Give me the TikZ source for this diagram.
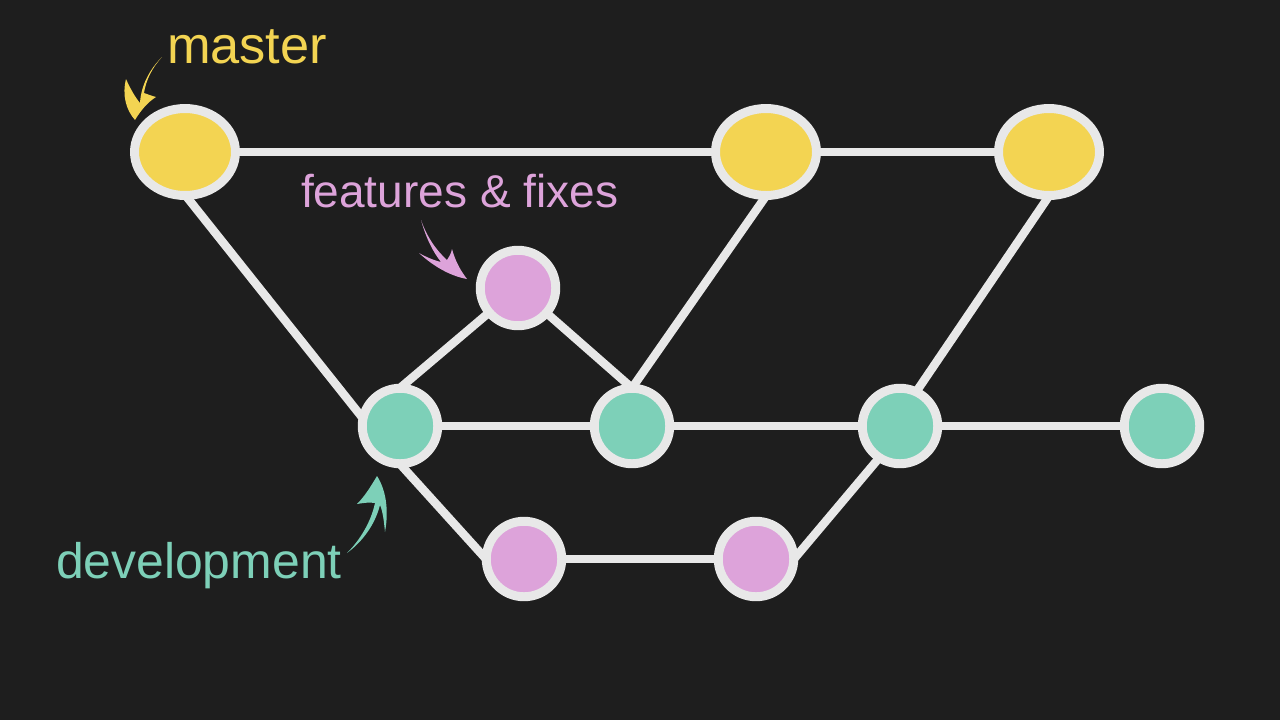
\documentclass[tikz,border=0pt]{standalone}
\usepackage{fontspec}
\setmainfont{Liberation Sans}
\usetikzlibrary{shapes.geometric,calc}
\definecolor{bg}{HTML}{1E1E1E}
\definecolor{cyel}{HTML}{F3D452}
\definecolor{cpink}{HTML}{DDA3DA}
\definecolor{cteal}{HTML}{7DD0B8}
\definecolor{cline}{HTML}{E8E8E8}
\begin{document}
\begin{tikzpicture}[x=0.02cm,y=-0.02cm,
  edge/.style={draw=cline,line width=4.8pt},
  mnode/.style={ellipse,draw=cline,line width=5.1pt,fill=cyel,minimum width=2.02cm,minimum height=1.74cm,inner sep=0pt},
  cnode/.style={circle,draw=cline,line width=5.1pt,minimum size=1.51cm,inner sep=0pt},
  pnode/.style={cnode,fill=cpink},
  dnode/.style={cnode,fill=cteal},
  lbl/.style={anchor=base west,inner sep=0pt,outer sep=0pt}]
\fill[bg] (0,0) rectangle (1280,720);
\useasboundingbox (0,0) rectangle (1280,720);
% node positions
\coordinate (m1) at (185,152);
\coordinate (m2) at (766,152);
\coordinate (m3) at (1049,152);
\coordinate (f1) at (518,288);
\coordinate (d1) at (400,426);
\coordinate (d2) at (632,426);
\coordinate (d3) at (900,426);
\coordinate (d4) at (1162,426);
\coordinate (f2) at (524,559);
\coordinate (f3) at (756,559);
% edges
\path[edge] (m1) -- (m2);
\path[edge] (m2) -- (m3);
\path[edge] ($(m1)+(1,44)$) -- ($(d1)+(-31,0)$);
\path[edge] ($(d1)+(0,-38)$) -- (f1);
\path[edge] (f1) -- ($(d2)+(0,-38)$);
\path[edge] ($(d2)+(0,-38)$) -- ($(m2)+(0,44)$);
\path[edge] (d1) -- (d2);
\path[edge] (d2) -- (d3);
\path[edge] (d3) -- (d4);
\path[edge] ($(d3)+(-7,0)$) -- ($(m3)+(0,44)$);
\path[edge] ($(d1)+(0,38)$) -- ($(f2)+(-38,0)$);
\path[edge] (f2) -- (f3);
\path[edge] ($(f3)+(38,0)$) -- ($(d3)+(6,0)$);
% nodes
\node[mnode] (nm1) at (m1) {};
\node[mnode] (nm2) at (m2) {};
\node[mnode] (nm3) at (m3) {};
\node[pnode] (nf1) at (f1) {};
\node[dnode] (nd1) at (d1) {};
\node[dnode] (nd2) at (d2) {};
\node[dnode] (nd3) at (d3) {};
\node[dnode] (nd4) at (d4) {};
\node[pnode] (nf2) at (f2) {};
\node[pnode] (nf3) at (f3) {};
% labels
\node[lbl,text=cyel,font=\fontsize{29.8pt}{32pt}\selectfont] (lmaster) at (167,63) {master};
\node[lbl,text=cpink,font=\fontsize{26.2pt}{30pt}\selectfont] (lfeat) at (301,207) {features \& fixes};
\node[lbl,text=cteal,font=\fontsize{28.4pt}{32pt}\selectfont] (ldev) at (56,578) {development};
% swoosh arrows
\fill[cyel] (162,57) .. controls (149,70) and (141,86) .. (140,103)
  .. controls (135,97) and (130,88) .. (126,79)
  .. controls (122,95) and (126,110) .. (135,120)
  .. controls (141,110) and (148,102) .. (156,97)
  .. controls (152,96) and (147,94) .. (144,93)
  .. controls (146,80) and (152,68) .. (162,57) -- cycle;
\fill[cpink] (421,220) .. controls (426,238) and (433,252) .. (441,262)
  .. controls (433,260) and (426,257) .. (419,253)
  .. controls (433,266) and (450,276) .. (467,279)
  .. controls (460,270) and (455,260) .. (452,249)
  .. controls (451,254) and (449,257) .. (447,260)
  .. controls (436,250) and (427,237) .. (421,220) -- cycle;
\fill[cteal] (347,553) .. controls (360,540) and (371,522) .. (375,503)
  .. controls (369,502) and (363,503) .. (357,504)
  .. controls (365,496) and (371,486) .. (377,476)
  .. controls (386,490) and (389,510) .. (385,532)
  .. controls (384,522) and (383,512) .. (380,505)
  .. controls (375,525) and (362,542) .. (347,553) -- cycle;
\end{tikzpicture}
\end{document}
